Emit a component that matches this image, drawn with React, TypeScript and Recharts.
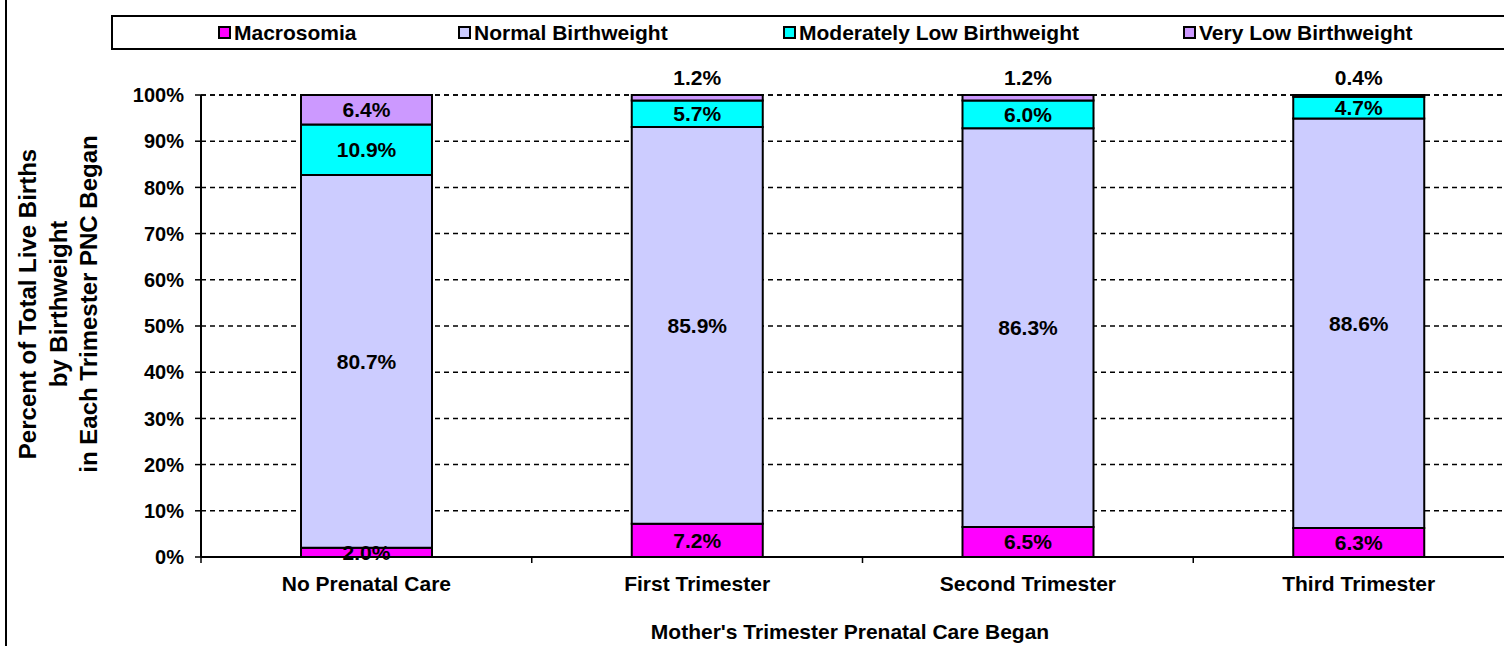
import React from 'react'
import { BarChart, Bar, XAxis, YAxis, CartesianGrid, LabelList } from 'recharts'

const categories = ['No Prenatal Care', 'First Trimester', 'Second Trimester', 'Third Trimester']
const macrosomia = [2.0, 7.2, 6.5, 6.3]
const normalBw = [80.7, 85.9, 86.3, 88.6]
const modLowBw = [10.9, 5.7, 6.0, 4.7]
const veryLowBw = [6.4, 1.2, 1.2, 0.4]
const yTicks = [0, 10, 20, 30, 40, 50, 60, 70, 80, 90, 100]

const SERIES = [
  { key: 'macro', name: 'Macrosomia', color: '#FF00FF', legendX: 218 },
  { key: 'normal', name: 'Normal Birthweight', color: '#CCCCFF', legendX: 458 },
  { key: 'modLow', name: 'Moderately Low Birthweight', color: '#00FFFF', legendX: 783 },
  { key: 'veryLow', name: 'Very Low Birthweight', color: '#CC99FF', legendX: 1183 },
]

const data = categories.map((c, i) => ({
  name: c,
  macro: macrosomia[i],
  normal: normalBw[i],
  modLow: modLowBw[i],
  veryLow: veryLowBw[i],
}))

const FONT = '"Liberation Sans", Arial, Helvetica, sans-serif'
const CHART_W = 1540
const CHART_H = 646
const MARGIN = { top: 95, right: 16, left: 121, bottom: 39 }
const Y_AXIS_W = 80
const PLOT_W = CHART_W - MARGIN.left - Y_AXIS_W - MARGIN.right
const HALF_BAND = PLOT_W / categories.length / 2

// value label centred in its segment, small ones pushed above the bar
const SegmentLabel = (props: any) => {
  const { x, y, width, height, value } = props
  if (value == null) return null
  const above = value < 2
  const cy = above ? y - 18 : y + height / 2
  return (
    <text
      x={x + width / 2}
      y={cy}
      textAnchor="middle"
      dominantBaseline="central"
      fontFamily={FONT}
      fontWeight="bold"
      fontSize={21}
      fill="#000"
    >
      {value.toFixed(1)}%
    </text>
  )
}

const CategoryTick = (props: any) => {
  const { x, y, payload } = props
  return (
    <g>
      <line x1={x - HALF_BAND} y1={y - 8} x2={x - HALF_BAND} y2={y - 2} stroke="#000" strokeWidth={1.5} />
      <text
        x={x}
        y={y + 18}
        textAnchor="middle"
        dominantBaseline="central"
        fontFamily={FONT}
        fontWeight="bold"
        fontSize={21}
        fill="#000"
      >
        {payload.value}
      </text>
    </g>
  )
}

const YTitle = () => {
  const lines = ['Percent of Total Live Births', 'by Birthweight', 'in Each Trimester PNC Began']
  const xs = [27, 58, 88]
  return (
    <g>
      {lines.map((l, i) => (
        <text
          key={l}
          x={xs[i]}
          y={304}
          transform={`rotate(-90, ${xs[i]}, 304)`}
          textAnchor="middle"
          dominantBaseline="central"
          fontFamily={FONT}
          fontWeight="bold"
          fontSize={24}
          fill="#000"
        >
          {l}
        </text>
      ))}
    </g>
  )
}

const XTitle = () => (
  <text
    x={850}
    y={631}
    textAnchor="middle"
    dominantBaseline="central"
    fontFamily={FONT}
    fontWeight="bold"
    fontSize={21}
    fill="#000"
  >
    Mother's Trimester Prenatal Care Began
  </text>
)

const LegendBox = () => (
  <div
    style={{
      position: 'absolute',
      left: 111,
      top: 15,
      width: 1440,
      height: 31,
      border: '2px solid #000',
      background: '#fff',
      fontFamily: FONT,
      fontWeight: 'bold',
      fontSize: 21,
    }}
  >
    {SERIES.map((s) => (
      <div
        key={s.key}
        style={{
          position: 'absolute',
          left: s.legendX - 113,
          top: 0,
          height: 31,
          display: 'flex',
          alignItems: 'center',
          whiteSpace: 'nowrap',
        }}
      >
        <span
          style={{
            display: 'inline-block',
            width: 9,
            height: 9,
            border: '2px solid #000',
            background: s.color,
            marginRight: 3,
          }}
        />
        <span>{s.name}</span>
      </div>
    ))}
  </div>
)

export default function App() {
  return (
    <div
      style={{
        position: 'absolute',
        left: 0,
        top: 0,
        width: 1504,
        height: 646,
        overflow: 'hidden',
        background: '#fff',
      }}
    >
      <div style={{ position: 'absolute', left: 5, top: 0, width: 2, height: 646, background: '#000' }} />
      <BarChart width={CHART_W} height={CHART_H} data={data} margin={MARGIN}>
        <CartesianGrid vertical={false} stroke="#000" strokeWidth={1.5} strokeDasharray="5 4" />
        <XAxis
          dataKey="name"
          height={50}
          axisLine={{ stroke: '#000', strokeWidth: 2 }}
          tickLine={false}
          tick={<CategoryTick />}
          interval={0}
          label={<XTitle />}
        />
        <YAxis
          width={Y_AXIS_W}
          domain={[0, 100]}
          ticks={yTicks}
          interval={0}
          tickFormatter={(v: number) => `${v}%`}
          axisLine={{ stroke: '#000', strokeWidth: 2 }}
          tickLine={{ stroke: '#000', strokeWidth: 1.5 }}
          tickSize={6}
          tickMargin={11}
          tick={{ fill: '#000', fontFamily: FONT, fontWeight: 'bold', fontSize: 20 }}
          label={<YTitle />}
        />
        {SERIES.map((s) => (
          <Bar
            key={s.key}
            dataKey={s.key}
            name={s.name}
            stackId="a"
            fill={s.color}
            stroke="#000"
            strokeWidth={2}
            barSize={131}
            isAnimationActive={false}
          >
            <LabelList dataKey={s.key} content={<SegmentLabel />} />
          </Bar>
        ))}
      </BarChart>
      <LegendBox />
    </div>
  )
}
